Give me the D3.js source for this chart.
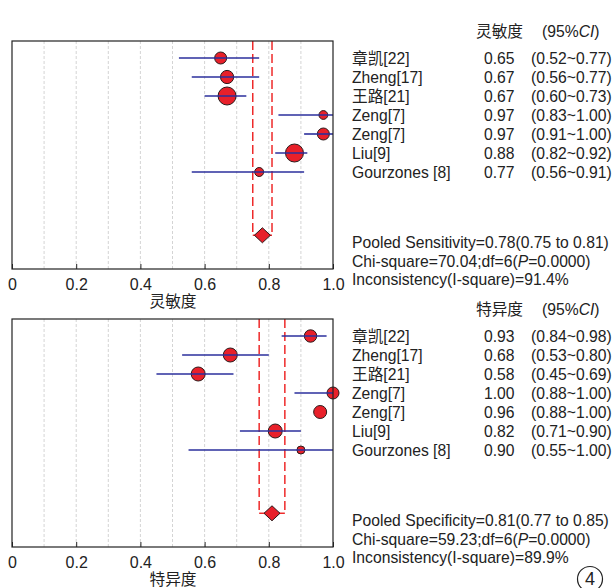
<!DOCTYPE html>
<html>
<head>
<meta charset="utf-8">
<script src="https://cdn.jsdelivr.net/npm/d3@7"></script>
<style>
  body { margin: 0; background: #fff; }
  text { font-family: "Liberation Sans", Arial, "Noto Sans CJK SC", sans-serif; fill: #222; }
</style>
</head>
<body>
<svg id="chart" width="614" height="588"></svg>
<script>
// study names, shared by both panels
const studies = ["章凯[22]", "Zheng[17]", "王路[21]", "Zeng[7]", "Zeng[7]", "Liu[9]", "Gourzones [8]"];

// sensitivity
const sensValues = [0.65, 0.67, 0.67, 0.97, 0.97, 0.88, 0.77];
const sensLower = [0.52, 0.56, 0.60, 0.83, 0.91, 0.82, 0.56];
const sensUpper = [0.77, 0.77, 0.73, 1.00, 1.00, 0.92, 0.91];
const sensWeight = [6, 6.6, 9, 4.4, 6, 9, 4.5];   // marker radius
const sensPooled = [0.78, 0.75, 0.81];
const sensStats = ["Pooled Sensitivity=0.78(0.75 to 0.81)", "Chi-square=70.04;df=6(", "0.0000)", "Inconsistency(I-square)=91.4%"];

// specificity
const specValues = [0.93, 0.68, 0.58, 1.00, 0.96, 0.82, 0.90];
const specLower = [0.84, 0.53, 0.45, 0.88, 0.88, 0.71, 0.55];
const specUpper = [0.98, 0.80, 0.69, 1.00, 1.00, 0.90, 1.00];
const specWeight = [6.2, 7, 7, 6, 6.5, 7, 4];
const specLineShown = [true, true, true, true, false, true, true];
const specPooled = [0.81, 0.77, 0.85];
const specStats = ["Pooled Specificity=0.81(0.77 to 0.85)", "Chi-square=59.23;df=6(", "0.0000)", "Inconsistency(I-square)=89.9%"];

const xTicks = [0, 0.2, 0.4, 0.6, 0.8, 1.0];
const gridTicks = [0.1, 0.2, 0.3, 0.4, 0.5, 0.6, 0.7, 0.8, 0.9];

const svg = d3.select("#chart");
const x = d3.scaleLinear().domain([0, 1]).range([12, 333]);
const fs = "15.7px";

function fmt(v) { return v.toFixed(2); }

function panel(top, title, values, lower, upper, weight, lineShown, pooled, stats) {
    const height = 228;
    const g = svg.append("g").attr("transform", `translate(0, ${top})`);
    // row index -> y
    const y = d3.scaleLinear().domain([0, 1]).range([17, 36]);

    // gridlines
    g.selectAll(".grid").data(gridTicks).join("line")
        .attr("x1", d => x(d)).attr("x2", d => x(d))
        .attr("y1", 0).attr("y2", height)
        .attr("stroke", "#cfcfcf").attr("stroke-width", 0.9)
        .attr("stroke-dasharray", "3,2");

    // pooled bracket
    const dy = y(9.33);
    g.selectAll(".pool").data([pooled[1], pooled[2]]).join("line")
        .attr("x1", d => x(d)).attr("x2", d => x(d))
        .attr("y1", 0).attr("y2", dy)
        .attr("stroke", "#ee2a2a").attr("stroke-width", 1.5)
        .attr("stroke-dasharray", "9,4");
    g.append("line")
        .attr("x1", x(pooled[1])).attr("x2", x(pooled[2]))
        .attr("y1", dy).attr("y2", dy)
        .attr("stroke", "#ee2a2a").attr("stroke-width", 1.5);

    const idx = d3.range(values.length);
    // study markers
    g.selectAll(".dot").data(idx).join("circle")
        .attr("cx", i => x(values[i])).attr("cy", i => y(i))
        .attr("r", i => weight[i])
        .attr("fill", "#e8202a").attr("stroke", "#2a1a1a").attr("stroke-width", 1);
    // confidence intervals
    g.selectAll(".ci").data(idx.filter(i => lineShown[i])).join("line")
        .attr("x1", i => x(lower[i])).attr("x2", i => x(upper[i]))
        .attr("y1", i => y(i)).attr("y2", i => y(i))
        .attr("stroke", "#2b2f9c").attr("stroke-width", 1.6);

    // pooled diamond
    const cx = x(pooled[0]);
    g.append("path")
        .attr("d", `M${cx - 8},${dy} L${cx},${dy - 7.5} L${cx + 8},${dy} L${cx},${dy + 7.5} Z`)
        .attr("fill", "#e8202a").attr("stroke", "#2a1a1a").attr("stroke-width", 1);

    // frame
    g.append("rect").attr("x", x(0)).attr("y", 0)
        .attr("width", x(1) - x(0)).attr("height", height)
        .attr("fill", "none").attr("stroke", "#222").attr("stroke-width", 1.2);

    // bottom axis, ticks pointing inward
    const axis = g.append("g").attr("transform", `translate(0, ${height})`)
        .call(d3.axisBottom(x).tickValues(xTicks).tickFormat(d3.format(".1f")).tickSizeInner(-5).tickSizeOuter(0).tickPadding(10));
    axis.select(".domain").remove();
    axis.selectAll("line").attr("stroke", "#222");
    axis.selectAll("text")
        .text(d => d === 0 ? "0" : d3.format(".1f")(d))
        .style("font-size", "16px").attr("fill", "#222")
        .style("font-family", "'Liberation Sans', Arial, sans-serif");
    g.append("text").attr("x", 173).attr("y", height + 38)
        .attr("text-anchor", "middle").style("font-size", fs).text(title);

    // right-hand table
    g.append("text").attr("x", 476).attr("y", -4).style("font-size", fs).text(title);
    const h = g.append("text").attr("x", 542).attr("y", -4).style("font-size", fs);
    h.append("tspan").text("(95%");
    h.append("tspan").style("font-style", "italic").text("CI");
    h.append("tspan").text(")");

    g.selectAll(".name").data(idx).join("text")
        .attr("x", 352).attr("y", i => y(i) + 5.5)
        .style("font-size", fs).text(i => studies[i]);
    g.selectAll(".val").data(idx).join("text")
        .attr("x", 484).attr("y", i => y(i) + 5.5)
        .style("font-size", fs).text(i => fmt(values[i]));
    g.selectAll(".range").data(idx).join("text")
        .attr("x", 531).attr("y", i => y(i) + 5.5)
        .style("font-size", fs).text(i => `(${fmt(lower[i])}~${fmt(upper[i])})`);

    // pooled statistics
    g.append("text").attr("x", 352).attr("y", 207).style("font-size", fs).text(stats[0]);
    const c = g.append("text").attr("x", 352).attr("y", 226).style("font-size", fs);
    c.append("tspan").text(stats[1]);
    c.append("tspan").style("font-style", "italic").text("P");
    c.append("tspan").text("=" + stats[2]);
    g.append("text").attr("x", 352).attr("y", 244).style("font-size", fs).text(stats[3]);
}

panel(41, "灵敏度", sensValues, sensLower, sensUpper, sensWeight, sensValues.map(() => true), sensPooled, sensStats);
panel(319, "特异度", specValues, specLower, specUpper, specWeight, specLineShown, specPooled, specStats);

// figure number
svg.append("circle").attr("cx", 590).attr("cy", 579).attr("r", 12.5)
    .attr("fill", "none").attr("stroke", "#222").attr("stroke-width", 1.2);
svg.append("text").attr("x", 590).attr("y", 585).attr("text-anchor", "middle")
    .style("font-size", "18px").text("4");
</script>
</body>
</html>
